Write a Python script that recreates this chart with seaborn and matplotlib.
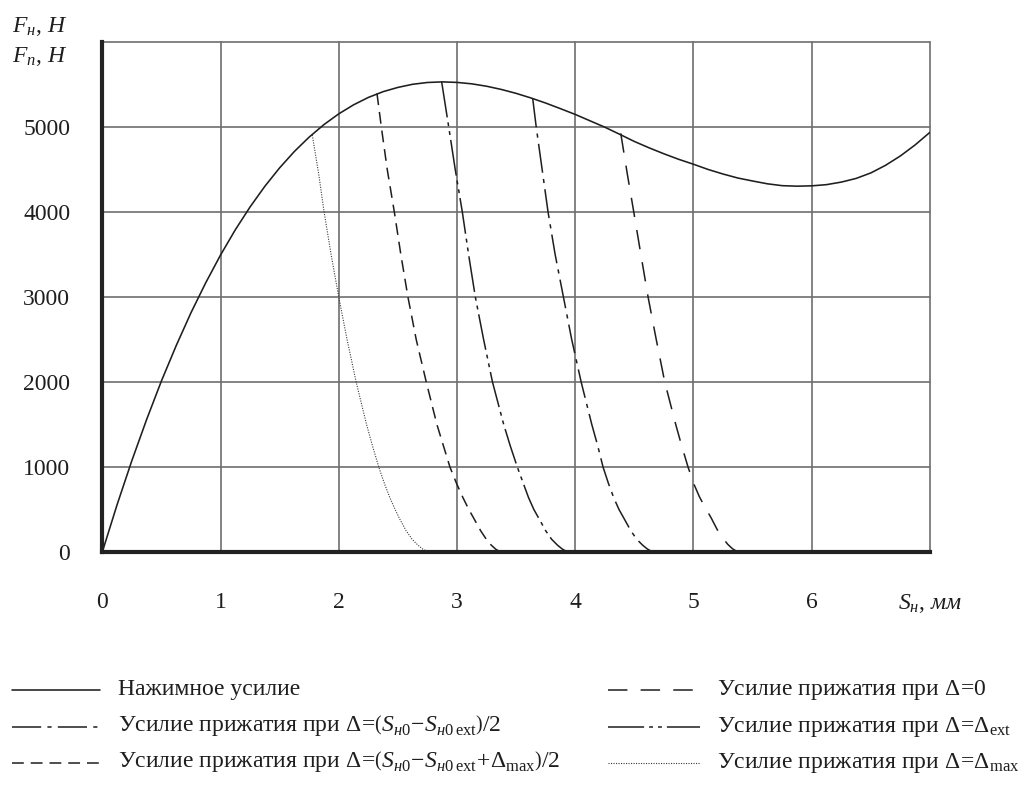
import numpy as np
import pandas as pd
import matplotlib
matplotlib.use("Agg")
import matplotlib.pyplot as plt
from matplotlib.lines import Line2D
import seaborn as sns

# Нажимное усилие
s_main = [0, 0.125, 0.25, 0.375, 0.5, 0.625, 0.75, 0.875, 1.0, 1.125, 1.25, 1.375, 1.5, 1.625,
          1.75, 1.875, 2.0, 2.125, 2.25, 2.375, 2.5, 2.625, 2.75, 2.875, 3.0, 3.125, 3.25, 3.375,
          3.5, 3.625, 3.75, 3.875, 4.0, 4.125, 4.25, 4.375, 4.5, 4.625, 4.75, 4.875, 5.0, 5.125,
          5.25, 5.375, 5.5, 5.625, 5.75, 5.875, 6.0, 6.125, 6.25, 6.375, 6.5, 6.625, 6.75, 6.875, 7.0]
f_main = [0, 556, 1075, 1559, 2012, 2428, 2815, 3168, 3494, 3791, 4060, 4303, 4520, 4713,
          4882, 5029, 5155, 5261, 5348, 5416, 5466, 5503, 5524, 5531, 5525, 5508, 5480, 5442,
          5396, 5342, 5282, 5216, 5148, 5073, 4998, 4915, 4830, 4755, 4685, 4620, 4562, 4500,
          4447, 4400, 4365, 4332, 4310, 4304, 4308, 4322, 4352, 4395, 4460, 4550, 4660, 4790, 4938]

# Усилие прижатия при Δ=Δmax
s_dmax = [1.776, 1.83, 1.876, 1.935, 2.0, 2.07, 2.147, 2.235, 2.285, 2.338, 2.39, 2.435, 2.48,
          2.52, 2.57, 2.62, 2.67, 2.71, 2.745, 2.77]
f_dmax = [4906, 4450, 4000, 3500, 3000, 2500, 2000, 1500, 1250, 1000, 790, 630, 490,
          376, 250, 150, 80, 35, 8, 0]

# Усилие прижатия при Δ=(Sн0-Sн0ext+Δmax)/2
s_half_max = [2.323, 2.36, 2.41, 2.47, 2.525, 2.585, 2.655, 2.74, 2.83, 2.885, 2.94, 2.995, 3.05,
              3.10, 3.15, 3.20, 3.25, 3.29, 3.33, 3.36, 3.38]
f_half_max = [5396, 5000, 4500, 4000, 3500, 3000, 2500, 2000, 1500, 1250, 1000, 810, 640,
              500, 376, 250, 145, 80, 30, 8, 0]

# Усилие прижатия при Δ=Δext
s_dext = [2.87, 2.93, 2.985, 3.045, 3.098, 3.155, 3.225, 3.30, 3.395, 3.45, 3.51, 3.56, 3.605,
          3.65, 3.70, 3.75, 3.80, 3.85, 3.89, 3.925, 3.95]
f_dext = [5533, 5000, 4500, 4000, 3500, 3000, 2500, 2000, 1500, 1250, 1000, 810, 640,
          500, 376, 250, 150, 80, 35, 8, 0]

# Усилие прижатия при Δ=(Sн0-Sн0ext)/2
s_half = [3.64, 3.67, 3.72, 3.77, 3.83, 3.90, 3.97, 4.05, 4.14, 4.19, 4.235, 4.28, 4.325,
          4.37, 4.42, 4.47, 4.52, 4.57, 4.61, 4.645, 4.67]
f_half = [5337, 5000, 4500, 4000, 3500, 3000, 2500, 2000, 1500, 1250, 1000, 810, 640,
          500, 376, 250, 150, 80, 35, 8, 0]

# Усилие прижатия при Δ=0
s_d0 = [4.385, 4.44, 4.495, 4.555, 4.616, 4.685, 4.757, 4.85, 4.90, 4.954, 5.00, 5.05, 5.10,
        5.15, 5.20, 5.25, 5.29, 5.33, 5.365, 5.39]
f_d0 = [4925, 4450, 4000, 3500, 3000, 2500, 2000, 1500, 1250, 1000, 810, 650, 520,
        400, 265, 160, 90, 38, 9, 0]

x_ticks = [0, 1, 2, 3, 4, 5, 6, 7]
x_labels = ['0', '1', '2', '3', '4', '5', '6', r'$S_н,\,мм$']
y_ticks = [0, 1000, 2000, 3000, 4000, 5000, 6000]
y_labels = ['0', '1000', '2000', '3000', '4000', '5000', '']

sns.set_style("white")
plt.rcParams['font.family'] = ['Liberation Serif', 'DejaVu Serif']
plt.rcParams['mathtext.fontset'] = 'custom'
plt.rcParams['mathtext.rm'] = 'Liberation Serif'
plt.rcParams['mathtext.it'] = 'Liberation Serif:italic'
plt.rcParams['mathtext.bf'] = 'Liberation Serif:bold'
plt.rcParams['lines.scale_dashes'] = False
plt.rcParams['text.color'] = '#1e1e1e'

ink = '#1e1e1e'
fig = plt.figure(figsize=(10.26, 7.87), dpi=100)
ax = fig.add_axes([0.0997, 0.2986, 0.8067, 0.6480])

series = [
    (s_main, f_main, '-', 1.15, ink, 'Нажимное усилие'),
    (s_half, f_half, (0, (21, 4.5, 3, 4.5)), 1.1, ink,
     r'Усилие прижатия при $\Delta\!=\!\left(S_{н0}\!-\!S_{н0\,\mathrm{ext}}\right)/2$'),
    (s_half_max, f_half_max, (0, (8.5, 5)), 1.1, ink,
     r'Усилие прижатия при $\Delta\!=\!\left(S_{н0}\!-\!S_{н0\,\mathrm{ext}}\!+\!\Delta_{\max}\right)/2$'),
    (s_d0, f_d0, (0, (14, 9.5)), 1.1, ink, r'Усилие прижатия при $\Delta\!=\!0$'),
    (s_dext, f_dext, (0, (26, 3.6, 2.8, 3.6, 2.8, 3.6)), 1.1, ink,
     r'Усилие прижатия при $\Delta\!=\!\Delta_{\mathrm{ext}}$'),
    (s_dmax, f_dmax, (0, (0.8, 1.0)), 0.8, '#3a3a3a',
     r'Усилие прижатия при $\Delta\!=\!\Delta_{\max}$'),
]

for xs, ys, ls, lw, col, lab in series:
    sns.lineplot(x=xs, y=ys, ax=ax, color=col, linewidth=lw, linestyle=ls,
                 sort=False, estimator=None, legend=False, zorder=3)

ax.set_xlim(0, 7)
ax.set_ylim(0, 6000)
ax.set_xticks(x_ticks)
ax.set_xticklabels(x_labels)
ax.set_yticks(y_ticks)
ax.set_yticklabels(y_labels)
ax.set_xlabel('')
ax.set_ylabel('')

ax.grid(True, color='#6e6e6e', linewidth=1.2)
ax.set_axisbelow(True)
for gl in ax.get_xgridlines() + ax.get_ygridlines():
    gl.set_clip_on(False)

for side in ['top', 'right']:
    ax.spines[side].set_visible(False)
for side in ['left', 'bottom']:
    ax.spines[side].set_linewidth(3.0)
    ax.spines[side].set_color('#222222')
    ax.spines[side].set_zorder(4)

ax.tick_params(axis='both', direction='out', length=6.5, width=1.0, color='#555555',
               labelsize=17, labelcolor='#1e1e1e')
ax.tick_params(axis='x', pad=22)
ax.tick_params(axis='y', pad=16.5)

# подписи оси Y
fig.text(12 / 1026, 1 - 31.7 / 787, r'$F_н,\,H$', fontsize=17, va='baseline', ha='left')
fig.text(12 / 1026, 1 - 61.7 / 787, r'$F_n,\,H$', fontsize=17, va='baseline', ha='left')

# легенда под графиком
rows_y = [690, 727, 763]
cols = [(11.7, 100, 118), (608, 700, 716.7)]
for i, (xs, ys, ls, lw, col, lab) in enumerate(series):
    c = cols[i // 3]
    ry = rows_y[i % 3]
    fig.add_artist(Line2D([c[0] / 1026, c[1] / 1026], [1 - ry / 787, 1 - ry / 787],
                          transform=fig.transFigure, color=col, linewidth=lw, linestyle=ls))
    fig.text(c[2] / 1026, 1 - (ry + 5) / 787, lab, fontsize=17, va='baseline', ha='left')

fig.savefig('out.png', dpi=100)
